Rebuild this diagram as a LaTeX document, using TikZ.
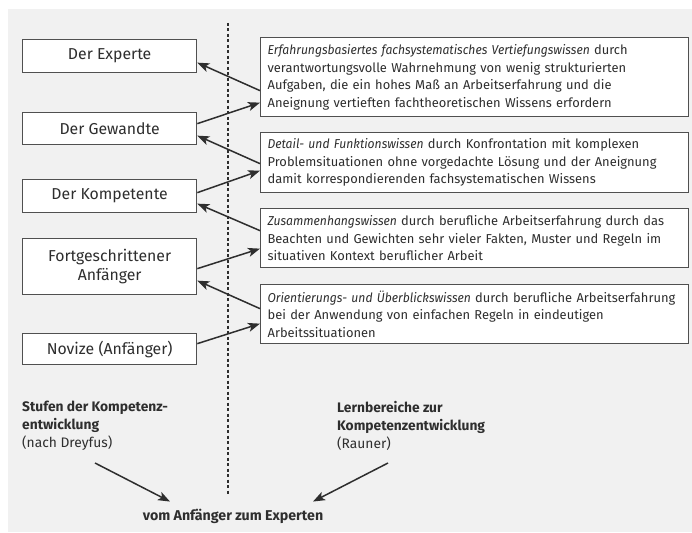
\documentclass[tikz,border=0pt]{standalone}
\usepackage{fontspec}
\setmainfont[ItalicFeatures={FakeStretch=0.94}]{Fira Sans}
\usetikzlibrary{arrows.meta}
\definecolor{panel}{HTML}{F1F1F1}
\definecolor{ink}{HTML}{2E2E2E}
\definecolor{frame}{HTML}{505050}
% one unbreakable line of a learning-area box
\newcommand{\arealine}[1]{\hspace*{2pt}\mbox{#1}}
\begin{document}
\begin{tikzpicture}[x=1pt,y=-1pt,
  every node/.style={text=ink},
  stage/.style={draw=frame, line width=1.3pt, fill=white, anchor=north west,
    minimum width=174pt, align=center, inner sep=0pt, font=\fontsize{15.8}{19.5}\selectfont},
  area/.style={draw=frame, line width=1.3pt, fill=white, anchor=north west,
    minimum width=428pt, text width=418pt, align=left, inner xsep=5pt, inner ysep=0pt,
    font=\fontsize{12.9}{17.6}\selectfont},
  link/.style={draw=ink, line width=1.5pt, -{Stealth[length=12pt,width=9pt,inset=3pt]}},
  caption/.style={anchor=north west, align=left, inner sep=0pt,
    font=\fontsize{13.8}{18}\selectfont}]
\useasboundingbox (0,0) rectangle (692,532);
\fill[panel] (8,9) rectangle (692,532);

% dividing line between stages and learning areas
\draw[ink, line width=1.1pt, dash pattern=on 3pt off 2.5pt] (228,23) -- (228,495);

% stages of competence development
\node[stage, minimum height=33pt] (exp) at (22,39) {Der Experte};
\node[stage, minimum height=32pt] (gew) at (22,112) {Der Gewandte};
\node[stage, minimum height=33pt] (kom) at (22,179) {Der Kompetente};
\node[stage, minimum height=56pt] (fort) at (22,238) {Fortgeschrittener\\Anfänger};
\node[stage, minimum height=31pt] (nov) at (22,333) {Novize (Anfänger)};

% learning areas
\node[area, minimum height=79pt] (r1) at (260,37) {\arealine{\textit{Erfahrungsbasiertes fachsystematisches Vertiefungswissen} durch}\\\arealine{verantwortungsvolle Wahrnehmung von wenig strukturierten}\\\arealine{Aufgaben, die ein hohes Maß an Arbeitserfahrung und die}\\\arealine{Aneignung vertieften fachtheoretischen Wissens erfordern}};
\node[area, minimum height=60pt] (r2) at (260,132) {\arealine{\textit{Detail- und Funktionswissen} durch Konfrontation mit komplexen}\\\arealine{Problemsituationen ohne vorgedachte Lösung und der Aneignung}\\\arealine{damit korrespondierenden fachsystematischen Wissens}};
\node[area, minimum height=59pt] (r3) at (260,208) {\arealine{\textit{Zusammenhangswissen} durch berufliche Arbeitserfahrung durch das}\\\arealine{Beachten und Gewichten sehr vieler Fakten, Muster und Regeln im}\\\arealine{situativen Kontext beruflicher Arbeit}};
\node[area, minimum height=59pt] (r4) at (260,284) {\arealine{\textit{Orientierungs- und Überblickswissen} durch berufliche Arbeitserfahrung}\\\arealine{bei der Anwendung von einfachen Regeln in eindeutigen}\\\arealine{Arbeitssituationen}};

% connections between stages and learning areas
\draw[link] ([yshift=-13.5pt]r1.west) -- ([yshift=-6.5pt]exp.east);
\draw[link] ([yshift=5pt]gew.east) -- ([yshift=-25.5pt]r1.west);
\draw[link] ([yshift=-1pt]r2.west) -- ([yshift=-7pt]gew.east);
\draw[link] ([yshift=3.5pt]kom.east) -- ([yshift=-8pt]r2.west);
\draw[link] ([yshift=7.5pt]r3.west) -- ([yshift=-7.5pt]kom.east);
\draw[link] ([yshift=-2pt]fort.east) -- ([yshift=-10.5pt]r3.west);
\draw[link] ([yshift=5.5pt]r4.west) -- ([yshift=-14pt]fort.east);
\draw[link] ([yshift=5.5pt]nov.east) -- ([yshift=-9.5pt]r4.west);

% captions
\node[caption] (stufen) at (22,401) {\textbf{Stufen der Kompetenz-}\\\textbf{entwicklung}\\(nach Dreyfus)};
\node[caption] (lern) at (337,401) {\textbf{Lernbereiche zur}\\\textbf{Kompetenzentwicklung}\\(Rauner)};
\node[anchor=center, inner sep=0pt, font=\fontsize{14.2}{16}\bfseries] (ziel) at (233,516) {vom Anfänger zum Experten};

\coordinate (s1) at (95,463);
\coordinate (s2) at (388,463);
\draw[link] (s1) -- ([xshift=-63pt,yshift=7pt]ziel.north);
\draw[link] (s2) -- ([xshift=80pt,yshift=7pt]ziel.north);
\end{tikzpicture}
\end{document}
